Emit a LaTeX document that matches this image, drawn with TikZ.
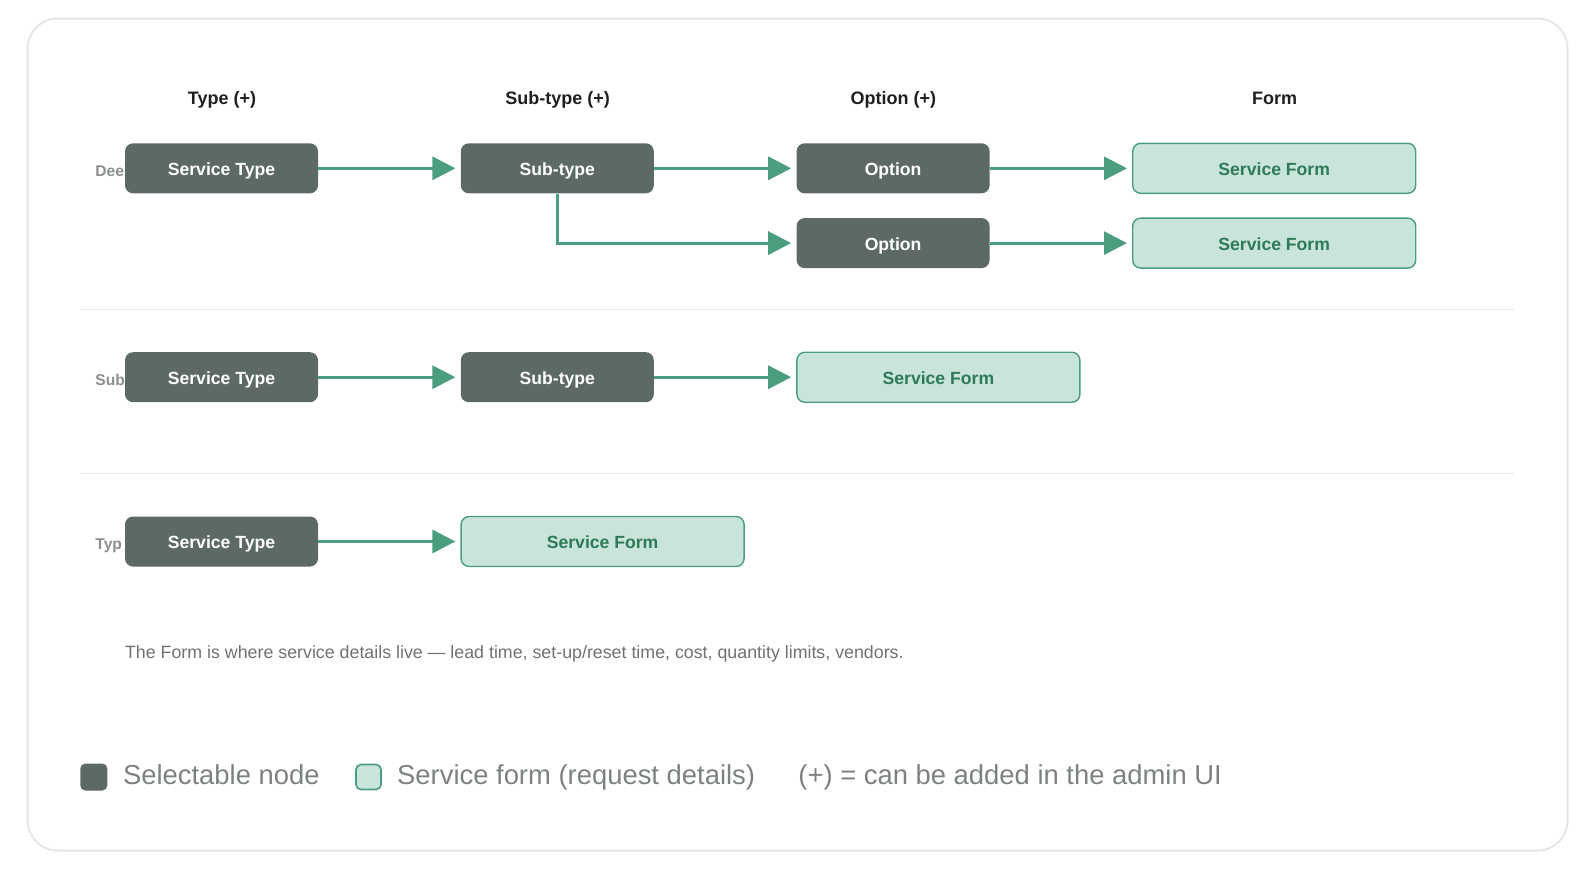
\documentclass[tikz,border=0pt]{standalone}
\usepackage{fontspec}
\setmainfont{Liberation Sans}
\usepackage{tikz}
\usetikzlibrary{arrows.meta, positioning}
\usepackage{xcolor}
\definecolor{nodegray}{HTML}{5D6A64}
\definecolor{formfill}{HTML}{C8E4DB}
\definecolor{formline}{HTML}{4A9E7E}
\definecolor{formtext}{HTML}{2F7A58}
\definecolor{linkgreen}{HTML}{4A9E7E}
\definecolor{labelgray}{HTML}{8A8F8C}
\definecolor{notegray}{HTML}{6E7370}
\definecolor{legendgray}{HTML}{7C827F}
\definecolor{rulegray}{HTML}{E5E7E6}
\tikzstyle{selnode} = [rectangle, rounded corners=4pt, minimum width=96.5pt, minimum height=25pt, text height=0.716em, text depth=0pt, fill=nodegray, text=white, font=\fontsize{8.8}{10}\selectfont\bfseries]
\tikzstyle{formnode} = [rectangle, rounded corners=4pt, minimum width=141.5pt, minimum height=25pt, text height=0.716em, text depth=0pt, draw=formline, line width=0.7pt, fill=formfill, text=formtext, font=\fontsize{8.8}{10}\selectfont\bfseries]
\tikzstyle{arrow} = [line width=1.5pt, draw=linkgreen, -{Triangle[length=11.5pt, width=11.5pt]}, shorten >=2.5pt]
\tikzstyle{header} = [text height=0.716em, text depth=0pt, font=\fontsize{9}{11}\selectfont\bfseries, text=black!88]
\tikzstyle{rowlabel} = [anchor=west, inner sep=0pt, text height=0.716em, text depth=0pt, font=\fontsize{7.8}{9}\selectfont\bfseries, text=labelgray]
\tikzstyle{legendtext} = [anchor=west, inner sep=0pt, text height=0.716em, text depth=0pt, font=\fontsize{13.7}{16}\selectfont, text=legendgray]

\begin{document}
\begin{tikzpicture}[x=0.5pt, y=-0.5pt, node distance=71pt]
  \useasboundingbox (0,0) rectangle (1590,868);
  \draw[rulegray, line width=1pt, rounded corners=15pt] (27.5,18.5) rectangle (1567.5,850.5);

  % Column headers
  \node[header] (hType) at (222,97.5) {Type (+)};
  \node[header] (hSub) at (557.7,97.5) {Sub-type (+)};
  \node[header] (hOpt) at (893.4,97.5) {Option (+)};
  \node[header] (hForm) at (1274.6,97.5) {Form};

  % Row labels (partly under the boxes)
  \node[rowlabel] (lDeep) at (95,169) {Dee};
  \node[rowlabel] (lSub) at (95,378) {Sub};
  \node[rowlabel] (lType) at (95,542.5) {Typ};

  % Deep row
  \node[selnode] (type1) at (221.5,168.3) {Service Type};
  \node[selnode, right=of type1] (sub1) {Sub-type};
  \node[selnode, right=of sub1] (opt1) {Option};
  \node[formnode, right=of opt1] (form1) {Service Form};
  \node[selnode, below=12pt of opt1] (opt2) {Option};
  \node[formnode, right=of opt2] (form2) {Service Form};

  \draw[rulegray, line width=0.8pt] (80,309.3) -- (1514,309.3);

  % Sub-type row
  \node[selnode] (type2) at (221.5,377.2) {Service Type};
  \node[selnode, right=of type2] (sub2) {Sub-type};
  \node[formnode, right=of sub2] (form3) {Service Form};

  \draw[rulegray, line width=0.8pt] (80,473.6) -- (1514,473.6);

  % Type row
  \node[selnode] (type3) at (221.5,541.5) {Service Type};
  \node[formnode, right=of type3] (form4) {Service Form};

  \draw[arrow] (type1) -- (sub1);
  \draw[arrow] (sub1) -- (opt1);
  \draw[arrow] (opt1) -- (form1);
  \draw[arrow] (sub1.south) |- (opt2.west);
  \draw[arrow] (opt2) -- (form2);
  \draw[arrow] (type2) -- (sub2);
  \draw[arrow] (sub2) -- (form3);
  \draw[arrow] (type3) -- (form4);

  % Note
  \node[anchor=west, inner sep=0pt, text height=0.716em, text depth=0pt, font=\fontsize{8.9}{10}\selectfont, text=notegray] (note) at (124.7,651) {The Form is where service details live --- lead time, set-up/reset time, cost, quantity limits, vendors.};

  % Legend
  \node[rectangle, rounded corners=2.5pt, minimum size=13.5pt, inner sep=0pt, fill=nodegray] (keySel) at (93.8,777) {};
  \node[legendtext, right=7.5pt of keySel] (txtSel) {Selectable node};
  \node[rectangle, rounded corners=2.5pt, minimum size=12.5pt, inner sep=0pt, draw=formline, line width=0.8pt, fill=formfill] (keyForm) at (368.5,777) {};
  \node[legendtext, right=7.5pt of keyForm] (txtForm) {Service form (request details)};
  \node[legendtext] (txtPlus) at (798,777) {(+) = can be added in the admin UI};
\end{tikzpicture}
\end{document}
